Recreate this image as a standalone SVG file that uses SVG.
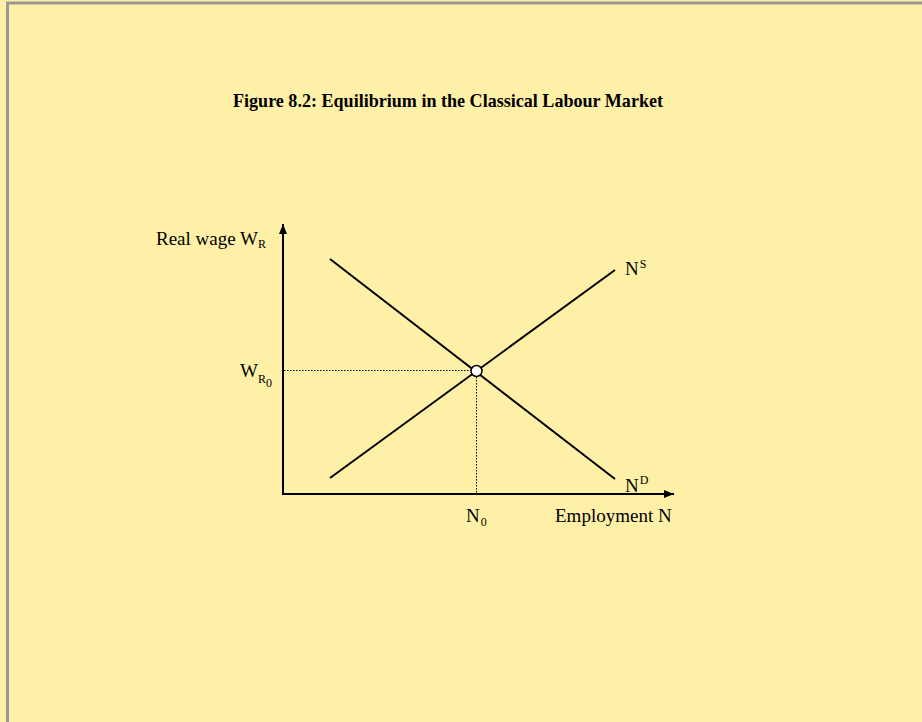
<svg xmlns="http://www.w3.org/2000/svg" width="922" height="722" viewBox="0 0 922 722">
<defs>
<style>
.t{font-family:"Liberation Serif","Times New Roman",serif;fill:#000;font-size:19px}
.s{font-size:12px}
.ln{stroke:#000;stroke-width:2;fill:none}
.dot{stroke:#000;stroke-width:1;stroke-dasharray:1.5,1.5;fill:none}
</style>
<marker id="ah" viewBox="0 0 10 8" refX="10" refY="4" markerWidth="10" markerHeight="8" markerUnits="userSpaceOnUse" orient="auto">
<path d="M0,0 L10,4 L0,8 Z" fill="#000"/>
</marker>
</defs>
<rect x="0" y="0" width="922" height="722" fill="#FFF0A8"/>
<path d="M7.5,722 V3 H922" stroke="#999" stroke-width="3" fill="none"/>
<g id="title"><text class="t" x="448" y="107" text-anchor="middle" font-weight="bold" font-size="20" textLength="430" lengthAdjust="spacingAndGlyphs">Figure 8.2: Equilibrium in the Classical Labour Market</text></g>
<g id="connectors">
<line class="ln" x1="283" y1="495" x2="283" y2="224" marker-end="url(#ah)"/>
<line class="ln" x1="282" y1="494" x2="674" y2="494" marker-end="url(#ah)"/>
<line class="dot" x1="284" y1="370.5" x2="471" y2="370.5"/>
<line class="dot" x1="476.5" y1="377" x2="476.5" y2="493"/>
<line class="ln" x1="330" y1="478" x2="615" y2="270"/>
<line class="ln" x1="330" y1="259" x2="615" y2="479"/>
</g>
<g id="equilibrium"><circle cx="476.5" cy="371" r="5.5" fill="#fff" stroke="#000" stroke-width="1.5"/></g>
<g id="ylabel"><text class="t" x="156" y="245">Real wage W<tspan class="s" dy="3">R</tspan></text></g>
<g id="wr0"><text class="t" x="240" y="377">W<tspan class="s" dy="6">R</tspan><tspan class="s" dy="4">0</tspan></text></g>
<g id="ns"><text class="t" x="625" y="275">N<tspan class="s" dx="1" dy="-7">S</tspan></text></g>
<g id="nd"><text class="t" x="625" y="492">N<tspan class="s" dx="1" dy="-8">D</tspan></text></g>
<g id="n0"><text class="t" x="466" y="522">N<tspan class="s" dx="1" dy="4">0</tspan></text></g>
<g id="xlabel"><text class="t" x="555" y="522">Employment N</text></g>
</svg>
